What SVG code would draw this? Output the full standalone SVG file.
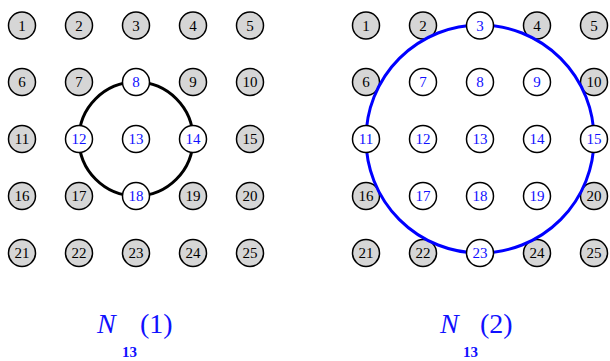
<svg xmlns="http://www.w3.org/2000/svg" width="610" height="361" viewBox="0 0 610 361">
<style>
.n circle{stroke:#000;stroke-width:1.5}
.g circle{fill:#d6d6d6}
.w circle{fill:#fff}
.n text{font-family:"Liberation Serif","Times New Roman",serif;font-size:15px;text-anchor:middle;dominant-baseline:central}
.g text{fill:#000}
.w text{fill:#1010ff}
.lbl{font-family:"Liberation Serif","Times New Roman",serif;fill:#1010ff}
</style>
<rect width="610" height="361" fill="#fff"/>
<!-- left grid -->
<g id="L1" class="n g"><circle cx="22" cy="25.5" r="13.5"/><text x="22" y="25.5">1</text></g>
<g id="L2" class="n g"><circle cx="79" cy="25.5" r="13.5"/><text x="79" y="25.5">2</text></g>
<g id="L3" class="n g"><circle cx="136" cy="25.5" r="13.5"/><text x="136" y="25.5">3</text></g>
<g id="L4" class="n g"><circle cx="193" cy="25.5" r="13.5"/><text x="193" y="25.5">4</text></g>
<g id="L5" class="n g"><circle cx="250" cy="25.5" r="13.5"/><text x="250" y="25.5">5</text></g>
<g id="L6" class="n g"><circle cx="22" cy="82" r="13.5"/><text x="22" y="82">6</text></g>
<g id="L7" class="n g"><circle cx="79" cy="82" r="13.5"/><text x="79" y="82">7</text></g>
<g id="L9" class="n g"><circle cx="193" cy="82" r="13.5"/><text x="193" y="82">9</text></g>
<g id="L10" class="n g"><circle cx="250" cy="82" r="13.5"/><text x="250" y="82">10</text></g>
<g id="L11" class="n g"><circle cx="22" cy="139" r="13.5"/><text x="22" y="139">11</text></g>
<g id="L15" class="n g"><circle cx="250" cy="139" r="13.5"/><text x="250" y="139">15</text></g>
<g id="L16" class="n g"><circle cx="22" cy="196" r="13.5"/><text x="22" y="196">16</text></g>
<g id="L17" class="n g"><circle cx="79" cy="196" r="13.5"/><text x="79" y="196">17</text></g>
<g id="L19" class="n g"><circle cx="193" cy="196" r="13.5"/><text x="193" y="196">19</text></g>
<g id="L20" class="n g"><circle cx="250" cy="196" r="13.5"/><text x="250" y="196">20</text></g>
<g id="L21" class="n g"><circle cx="22" cy="253" r="13.5"/><text x="22" y="253">21</text></g>
<g id="L22" class="n g"><circle cx="79" cy="253" r="13.5"/><text x="79" y="253">22</text></g>
<g id="L23" class="n g"><circle cx="136" cy="253" r="13.5"/><text x="136" y="253">23</text></g>
<g id="L24" class="n g"><circle cx="193" cy="253" r="13.5"/><text x="193" y="253">24</text></g>
<g id="L25" class="n g"><circle cx="250" cy="253" r="13.5"/><text x="250" y="253">25</text></g>
<!-- right grid gray -->
<g id="R1" class="n g"><circle cx="366" cy="25.5" r="13.5"/><text x="366" y="25.5">1</text></g>
<g id="R2" class="n g"><circle cx="423" cy="25.5" r="13.5"/><text x="423" y="25.5">2</text></g>
<g id="R4" class="n g"><circle cx="537" cy="25.5" r="13.5"/><text x="537" y="25.5">4</text></g>
<g id="R5" class="n g"><circle cx="594" cy="25.5" r="13.5"/><text x="594" y="25.5">5</text></g>
<g id="R6" class="n g"><circle cx="366" cy="82" r="13.5"/><text x="366" y="82">6</text></g>
<g id="R10" class="n g"><circle cx="594" cy="82" r="13.5"/><text x="594" y="82">10</text></g>
<g id="R16" class="n g"><circle cx="366" cy="196" r="13.5"/><text x="366" y="196">16</text></g>
<g id="R20" class="n g"><circle cx="594" cy="196" r="13.5"/><text x="594" y="196">20</text></g>
<g id="R21" class="n g"><circle cx="366" cy="253" r="13.5"/><text x="366" y="253">21</text></g>
<g id="R22" class="n g"><circle cx="423" cy="253" r="13.5"/><text x="423" y="253">22</text></g>
<g id="R24" class="n g"><circle cx="537" cy="253" r="13.5"/><text x="537" y="253">24</text></g>
<g id="R25" class="n g"><circle cx="594" cy="253" r="13.5"/><text x="594" y="253">25</text></g>
<!-- connectors: neighbourhood circles -->
<g id="connectors" fill="none" stroke-width="3">
<circle cx="136" cy="139" r="57" stroke="#000"/>
<circle cx="480" cy="139" r="114" stroke="#0000ff"/>
</g>
<!-- left highlighted -->
<g id="L8" class="n w"><circle cx="136" cy="82" r="13.5"/><text x="136" y="82">8</text></g>
<g id="L12" class="n w"><circle cx="79" cy="139" r="13.5"/><text x="79" y="139">12</text></g>
<g id="L13" class="n w"><circle cx="136" cy="139" r="13.5"/><text x="136" y="139">13</text></g>
<g id="L14" class="n w"><circle cx="193" cy="139" r="13.5"/><text x="193" y="139">14</text></g>
<g id="L18" class="n w"><circle cx="136" cy="196" r="13.5"/><text x="136" y="196">18</text></g>
<!-- right highlighted -->
<g id="R3" class="n w"><circle cx="480" cy="25.5" r="13.5"/><text x="480" y="25.5">3</text></g>
<g id="R7" class="n w"><circle cx="423" cy="82" r="13.5"/><text x="423" y="82">7</text></g>
<g id="R8" class="n w"><circle cx="480" cy="82" r="13.5"/><text x="480" y="82">8</text></g>
<g id="R9" class="n w"><circle cx="537" cy="82" r="13.5"/><text x="537" y="82">9</text></g>
<g id="R11" class="n w"><circle cx="366" cy="139" r="13.5"/><text x="366" y="139">11</text></g>
<g id="R12" class="n w"><circle cx="423" cy="139" r="13.5"/><text x="423" y="139">12</text></g>
<g id="R13" class="n w"><circle cx="480" cy="139" r="13.5"/><text x="480" y="139">13</text></g>
<g id="R14" class="n w"><circle cx="537" cy="139" r="13.5"/><text x="537" y="139">14</text></g>
<g id="R15" class="n w"><circle cx="594" cy="139" r="13.5"/><text x="594" y="139">15</text></g>
<g id="R17" class="n w"><circle cx="423" cy="196" r="13.5"/><text x="423" y="196">17</text></g>
<g id="R18" class="n w"><circle cx="480" cy="196" r="13.5"/><text x="480" y="196">18</text></g>
<g id="R19" class="n w"><circle cx="537" cy="196" r="13.5"/><text x="537" y="196">19</text></g>
<g id="R23" class="n w"><circle cx="480" cy="253" r="13.5"/><text x="480" y="253">23</text></g>
<!-- captions -->
<g id="cap1" class="lbl">
<text x="97" y="333" font-size="28" font-style="italic">N</text>
<text x="122" y="357" font-size="15" font-weight="bold">13</text>
<text x="140" y="333" font-size="28">(1)</text>
</g>
<g id="cap2" class="lbl">
<text x="440" y="333" font-size="28" font-style="italic">N</text>
<text x="463" y="357" font-size="15" font-weight="bold">13</text>
<text x="480" y="333" font-size="28">(2)</text>
</g>
</svg>
